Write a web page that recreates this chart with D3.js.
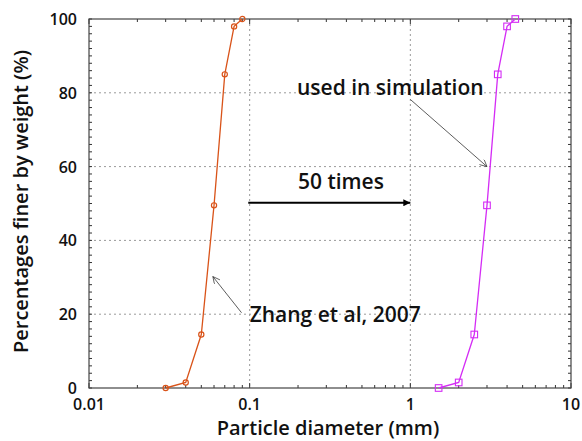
<!DOCTYPE html>
<html>
<head>
<meta charset="utf-8">
<script src="https://cdn.jsdelivr.net/npm/d3@7"></script>
<style>
  body { margin: 0; background: #fff; }
  svg { display: block; font-family: "Open Sans", "Noto Sans", sans-serif; }
  .tick-label { font-size: 16px; font-weight: 600; fill: #111; }
  .axis-title { font-size: 20px; font-weight: 600; fill: #111; }
  .note { font-size: 21px; font-weight: 600; fill: #111; }
</style>
</head>
<body>
<svg width="582" height="441"></svg>
<script>
const svg = d3.select('svg');

// data
const zhangDiam = [0.03, 0.04, 0.05, 0.06, 0.07, 0.08, 0.09];
const zhangPct  = [0, 1.5, 14.5, 49.5, 85, 98, 100];
const simDiam   = [1.5, 2, 2.5, 3, 3.5, 4, 4.5];
const simPct    = [0, 1.5, 14.5, 49.5, 85, 98, 100];

const xTicks = [0.01, 0.1, 1, 10];
const xTickLabels = ['0.01', '0.1', '1', '10'];
const yTicks = [0, 20, 40, 60, 80, 100];

// annotations in data coordinates
const notes = [
  {text: 'used in simulation', x: 0.197, y: 79.3},
  {text: '50 times', x: 0.37, y: 53.8, anchor: 'middle'},
  {text: 'Zhang et al, 2007', x: 0.1, y: 17.8}
];
const thinArrows = [
  {from: [1.0, 78.2], to: [3.0, 60]},
  {from: [0.089, 20.4], to: [0.059, 30.2]}
];
const thickArrows = [
  {from: [0.098, 50.2], to: [1.0, 50.2]}
];

var margin = {top: 19, right: 11, bottom: 53, left: 89};
const width = 582, height = 441;
var innerwidth = width - margin.left - margin.right;
var innerheight = height - margin.top - margin.bottom;

const g = svg.append('g')
  .attr('transform', 'translate(' + margin.left + ',' + margin.top + ')');

const xscale = d3.scaleLog().domain([0.01, 10]).range([0, innerwidth]);
const yscale = d3.scaleLinear().domain([0, 100]).range([innerheight, 0]);

// grid
g.append('g').selectAll('line')
  .data(xTicks.slice(1, -1))
  .enter().append('line')
  .attr('x1', d => xscale(d)).attr('x2', d => xscale(d))
  .attr('y1', 0).attr('y2', innerheight)
  .attr('stroke', '#9a9a9a').attr('stroke-dasharray', '2,3');
g.append('g').selectAll('line')
  .data(yTicks.slice(1, -1))
  .enter().append('line')
  .attr('y1', d => yscale(d)).attr('y2', d => yscale(d))
  .attr('x1', 0).attr('x2', innerwidth)
  .attr('stroke', '#9a9a9a').attr('stroke-dasharray', '2,3');

// minor + major ticks on all 4 sides (inward)
const xMinor = [];
[0.01, 0.1, 1].forEach(dec => { for (let k = 2; k <= 9; k++) xMinor.push(dec * k); });
const yMinor = d3.range(0, 101, 2);

const tickG = g.append('g').attr('stroke', '#333').attr('stroke-width', 1);
[[0, 1], [innerheight, -1]].forEach(([y0, dir]) => {
  tickG.selectAll(null).data(xMinor).enter().append('line')
    .attr('x1', d => xscale(d)).attr('x2', d => xscale(d))
    .attr('y1', y0)
    .attr('y2', y0 + dir * 3);
  tickG.selectAll(null).data(xTicks).enter().append('line')
    .attr('x1', d => xscale(d)).attr('x2', d => xscale(d))
    .attr('y1', y0)
    .attr('y2', y0 + dir * 5);
});
[[0, 1], [innerwidth, -1]].forEach(([x0, dir]) => {
  tickG.selectAll(null).data(yMinor).enter().append('line')
    .attr('y1', d => yscale(d)).attr('y2', d => yscale(d))
    .attr('x1', x0).attr('x2', x0 + dir * 3);
});

// frame
g.append('rect')
  .attr('width', innerwidth).attr('height', innerheight)
  .attr('fill', 'none').attr('stroke', '#444').attr('stroke-width', 1.2);

// tick labels
g.append('g').selectAll('text')
  .data(xTicks).enter().append('text')
  .attr('class', 'tick-label')
  .attr('x', d => xscale(d)).attr('y', innerheight + 22)
  .attr('text-anchor', 'middle')
  .text((d, i) => xTickLabels[i]);
g.append('g').selectAll('text')
  .data(yTicks).enter().append('text')
  .attr('class', 'tick-label')
  .attr('x', -12).attr('y', d => yscale(d) + 6)
  .attr('text-anchor', 'end')
  .text(d => d);

// axis titles
g.append('text')
  .attr('class', 'axis-title')
  .attr('x', innerwidth / 2 - 2).attr('y', innerheight + 47)
  .attr('text-anchor', 'middle')
  .text('Particle diameter (mm)');
g.append('text')
  .attr('class', 'axis-title')
  .attr('transform', 'rotate(-90)')
  .attr('x', -innerheight / 2 + 2).attr('y', -61)
  .attr('text-anchor', 'middle')
  .text('Percentages finer by weight (%)');

// series
const line = d3.line().x(d => xscale(d[0])).y(d => yscale(d[1]));
const zhang = d3.zip(zhangDiam, zhangPct);
const sim = d3.zip(simDiam, simPct);

const orange = '#d95319';
const magenta = '#d42cf5';

g.append('path').datum(zhang).attr('d', line)
  .attr('fill', 'none').attr('stroke', orange).attr('stroke-width', 1.3);
g.selectAll('.zc').data(zhang).enter().append('circle')
  .attr('class', 'zc')
  .attr('cx', d => xscale(d[0])).attr('cy', d => yscale(d[1]))
  .attr('r', 2.6)
  .attr('fill', 'none').attr('stroke', orange).attr('stroke-width', 1.2);

g.append('path').datum(sim).attr('d', line)
  .attr('fill', 'none').attr('stroke', magenta).attr('stroke-width', 1.3);
g.selectAll('.sq').data(sim).enter().append('rect')
  .attr('class', 'sq')
  .attr('x', d => xscale(d[0]) - 3.3).attr('y', d => yscale(d[1]) - 3.3)
  .attr('width', 6.6).attr('height', 6.6)
  .attr('fill', 'none').attr('stroke', magenta).attr('stroke-width', 1.1);

// arrow markers
const defs = svg.append('defs');
defs.append('marker')
  .attr('id', 'thin').attr('viewBox', '0 0 10 10')
  .attr('refX', 10).attr('refY', 5)
  .attr('markerWidth', 9).attr('markerHeight', 7)
  .attr('markerUnits', 'userSpaceOnUse')
  .attr('orient', 'auto')
  .append('path').attr('d', 'M0,0 L10,5 L0,10')
  .attr('fill', 'none').attr('stroke', '#333').attr('stroke-width', 1);
defs.append('marker')
  .attr('id', 'thick').attr('viewBox', '0 0 10 10')
  .attr('refX', 10).attr('refY', 5)
  .attr('markerWidth', 10).attr('markerHeight', 7)
  .attr('markerUnits', 'userSpaceOnUse')
  .attr('orient', 'auto')
  .append('path').attr('d', 'M0,0 L10,5 L0,10 Z').attr('fill', '#000');

g.selectAll('.thin').data(thinArrows).enter().append('line')
  .attr('class', 'thin')
  .attr('x1', d => xscale(d.from[0])).attr('y1', d => yscale(d.from[1]))
  .attr('x2', d => xscale(d.to[0])).attr('y2', d => yscale(d.to[1]))
  .attr('stroke', '#333').attr('stroke-width', 0.8)
  .attr('marker-end', 'url(#thin)');
g.selectAll('.thick').data(thickArrows).enter().append('line')
  .attr('class', 'thick')
  .attr('x1', d => xscale(d.from[0])).attr('y1', d => yscale(d.from[1]))
  .attr('x2', d => xscale(d.to[0])).attr('y2', d => yscale(d.to[1]))
  .attr('stroke', '#000').attr('stroke-width', 2)
  .attr('marker-end', 'url(#thick)');

g.selectAll('.note').data(notes).enter().append('text')
  .attr('class', 'note')
  .attr('x', d => xscale(d.x)).attr('y', d => yscale(d.y))
  .attr('text-anchor', d => d.anchor || 'start')
  .text(d => d.text);
</script>
</body>
</html>
